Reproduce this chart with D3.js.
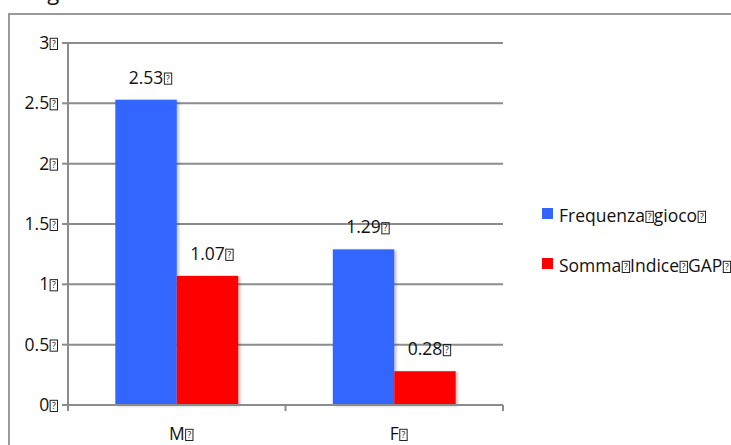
<!DOCTYPE html>
<html>
<head>
<meta charset="utf-8">
<script src="https://cdn.jsdelivr.net/npm/d3@7"></script>
<style>
  body { margin: 0; background: #fff; }
  text { font-family: "Open Sans", sans-serif; fill: #111; }
</style>
</head>
<body>
<script>
var categories = ["M", "F"];
var seriesNames = ["Frequenza gioco", "Somma Indice GAP"];
var frequenzaGioco = [2.53, 1.29];
var sommaIndiceGap = [1.07, 0.28];
var yTicks = [0, 0.5, 1, 1.5, 2, 2.5, 3];
var colors = ["#3366ff", "#ff0000"];

var width = 731, height = 445;
var plotLeft = 68, plotRight = 503, plotTop = 43, plotBottom = 405;
var fs = 17.5;

var svg = d3.select("body").append("svg")
    .attr("width", width)
    .attr("height", height);

// little "missing glyph" boxes that sit after each label in the original
function tofu(g, x, baseline, size) {
  var h = size * 0.64, w = size * 0.42;
  var b = g.append("g").attr("transform", "translate(" + x + "," + (baseline - h) + ")");
  b.append("rect").attr("x", 0.5).attr("y", 0.5).attr("width", w).attr("height", h)
    .attr("fill", "none").attr("stroke", "#222").attr("stroke-width", 1);
  b.append("text").attr("x", w / 2 + 0.5).attr("y", h - 2)
    .attr("text-anchor", "middle").style("font-size", (size * 0.5) + "px").text("?");
  return w + 1;
}

// draws the words with a box after each one; anchor: start/middle(of first word)/end
function label(g, words, x, y, size, anchor) {
  var grp = g.append("g");
  var cursor = 0;
  words.forEach(function (w) {
    var t = grp.append("text").attr("x", cursor).attr("y", 0)
      .style("font-size", size + "px").text(w);
    var len = t.node().getComputedTextLength();
    cursor += len + 0.5;
    cursor += tofu(grp, cursor, 0, size);
  });
  var first = grp.select("text").node().getComputedTextLength();
  var dx = x;
  if (anchor === "middle") dx = x - first / 2;
  if (anchor === "end") dx = x - cursor;
  grp.attr("transform", "translate(" + dx + "," + y + ")");
}

// partly cropped title at the very top
svg.append("text").attr("x", 1).attr("y", 0)
  .style("font-size", "22px").text("Categorie");

// outer frame
svg.append("path")
  .attr("d", "M9," + height + " V14 H" + width)
  .attr("fill", "none").attr("stroke", "#9a9a9a").attr("stroke-width", 2);

var x0 = d3.scaleBand().domain(categories).range([plotLeft, plotRight]).padding(0);
var x1 = d3.scaleBand().domain(seriesNames).range([0, x0.bandwidth()])
  .paddingInner(0).paddingOuter(0.77);
var y = d3.scaleLinear().domain([0, 3]).range([plotBottom, plotTop]);

// gridlines
svg.append("g").selectAll("line").data(yTicks.filter(function (d) { return d > 0; }))
  .enter().append("line")
  .attr("x1", plotLeft).attr("x2", plotRight)
  .attr("y1", function (d) { return y(d); }).attr("y2", function (d) { return y(d); })
  .attr("stroke", "#8c8c8c").attr("stroke-width", 2);

var defs = svg.append("defs");
var f = defs.append("filter").attr("id", "sh").attr("x", "-10%").attr("y", "-10%")
  .attr("width", "130%").attr("height", "120%");
f.append("feDropShadow").attr("dx", 2).attr("dy", 1).attr("stdDeviation", 1.5)
  .attr("flood-color", "#000").attr("flood-opacity", 0.25);

var rows = categories.map(function (c, i) {
  return { cat: c, values: [frequenzaGioco[i], sommaIndiceGap[i]] };
});

var groups = svg.append("g").selectAll("g").data(rows).enter().append("g")
  .attr("transform", function (d) { return "translate(" + x0(d.cat) + ",0)"; });

groups.selectAll("rect").data(function (d) {
    return d.values.map(function (v, j) { return { s: seriesNames[j], v: v, j: j }; });
  })
  .enter().append("rect")
  .attr("x", function (d) { return x1(d.s); })
  .attr("width", x1.bandwidth())
  .attr("y", function (d) { return y(d.v); })
  .attr("height", function (d) { return plotBottom - y(d.v); })
  .attr("fill", function (d) { return colors[d.j]; })
  .attr("filter", "url(#sh)");

// value labels
rows.forEach(function (r) {
  r.values.forEach(function (v, j) {
    label(svg, [d3.format(".2f")(v)],
      x0(r.cat) + x1(seriesNames[j]) + x1.bandwidth() / 2, y(v) - 16, fs, "middle");
  });
});

// axes
var axisColor = "#8c8c8c";
svg.append("line").attr("x1", plotLeft).attr("x2", plotLeft).attr("y1", plotTop).attr("y2", plotBottom + 6)
  .attr("stroke", axisColor).attr("stroke-width", 2);
svg.append("line").attr("x1", plotLeft - 6).attr("x2", plotRight).attr("y1", plotBottom).attr("y2", plotBottom)
  .attr("stroke", axisColor).attr("stroke-width", 2);

yTicks.forEach(function (t) {
  svg.append("line").attr("x1", plotLeft - 6).attr("x2", plotLeft)
    .attr("y1", y(t)).attr("y2", y(t)).attr("stroke", axisColor).attr("stroke-width", 2);
  label(svg, [String(t)], 58, y(t) + 6, fs, "end");
});

// x ticks between categories
[plotLeft, x0("F"), plotRight].forEach(function (xx) {
  svg.append("line").attr("x1", xx).attr("x2", xx).attr("y1", plotBottom).attr("y2", plotBottom + 6)
    .attr("stroke", axisColor).attr("stroke-width", 2);
});

categories.forEach(function (c) {
  label(svg, [c], x0(c) + x0.bandwidth() / 2, 440, fs, "middle");
});

// legend
var legendY = [214, 264];
seriesNames.forEach(function (s, i) {
  svg.append("rect").attr("x", 542).attr("y", legendY[i] - 6).attr("width", 11).attr("height", 11)
    .attr("fill", colors[i]);
  label(svg, s.split(" "), 559, legendY[i] + 8, fs, "start");
});
</script>
</body>
</html>
